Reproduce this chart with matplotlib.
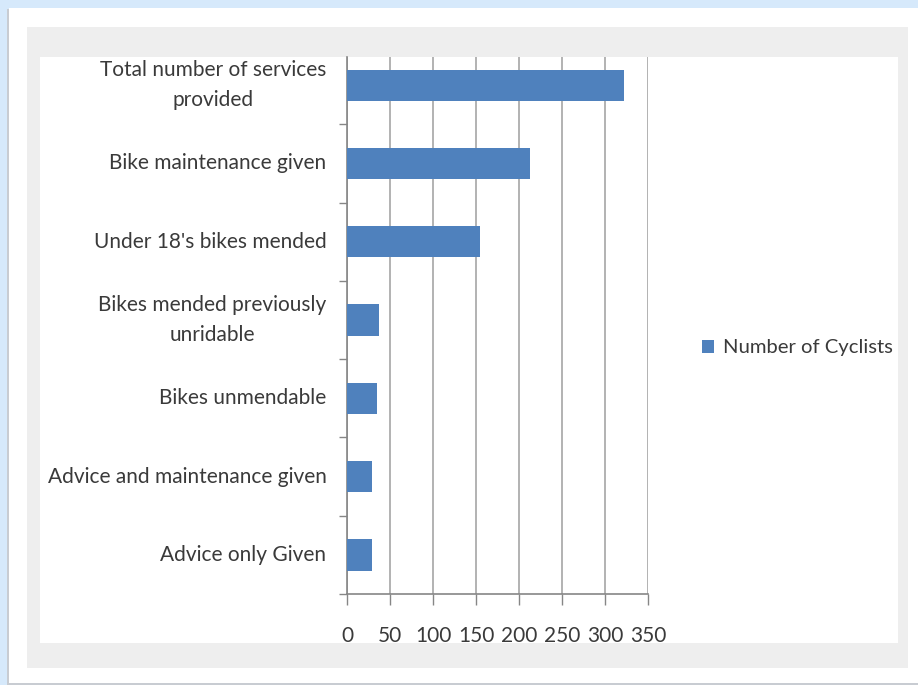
import matplotlib.pyplot as plt
from matplotlib.patches import Rectangle

# ================= data =================
categories = ['Advice only Given',
              'Advice and maintenance given',
              'Bikes unmendable',
              'Bikes mended previously\nunridable',
              "Under 18's bikes mended",
              'Bike maintenance given',
              'Total number of services\nprovided']
cyclists = [29, 29, 35, 37, 154, 212, 322]
x_ticks = [0, 50, 100, 150, 200, 250, 300, 350]
series_name = 'Number of Cyclists'

plt.rcParams['font.family'] = ['Lato', 'DejaVu Sans']
text_col = '#3a3a3a'
bar_col = '#4f81bd'
grid_col = '#a6a6a6'

W, H = 918, 685
fig = plt.figure(figsize=(W / 100, H / 100), dpi=100, facecolor='#d6e9fb')

def px_rect(x0, y0, x1, y1, color, z):
    # rectangle given in pixel coords (top-left origin)
    fig.patches.append(Rectangle((x0 / W, 1 - y1 / H), (x1 - x0) / W, (y1 - y0) / H,
                                 transform=fig.transFigure, facecolor=color,
                                 edgecolor='none', zorder=z))

# frames: outer shadow, white frame, grey panel, white chart area
px_rect(7, 9, W, H, '#c8ccd2', -4)
px_rect(9, 8, W, H - 2, 'white', -3)
px_rect(27, 27, 908, 668, '#eeeeee', -2)
px_rect(40, 57, 898, 643, 'white', -1)

ax = fig.add_axes([347.3 / W, 1 - 594 / H, 301 / W, (594 - 57) / H])
ax.set_facecolor('none')
ax.set_zorder(2)

ypos = list(range(len(categories)))
ax.barh(ypos, cyclists, height=0.40, color=bar_col, label=series_name, zorder=3)

ax.set_xlim(0, 350)
ax.set_ylim(-0.5, 6.36)
ax.set_xticks(x_ticks)
ax.set_xticklabels([str(v) for v in x_ticks])
ax.set_yticks(ypos)
ax.set_yticklabels(categories, ha='right', va='center', multialignment='center')
for t in ax.get_yticklabels():
    t.set_linespacing(1.65)
ax.set_yticks([p - 0.5 for p in ypos], minor=True)

ax.tick_params(axis='y', which='major', length=0, pad=15, labelsize=15, labelcolor=text_col)
ax.tick_params(axis='y', which='minor', length=6, width=1, color='#868686', direction='out')
ax.tick_params(axis='x', which='major', length=8, width=1, color='#868686', direction='out',
               pad=15, labelsize=15, labelcolor=text_col)

ax.grid(True, axis='x', color=grid_col, linewidth=1.2, zorder=0)
ax.set_axisbelow(True)
for side in ['top', 'right']:
    ax.spines[side].set_visible(False)
for side in ['left', 'bottom']:
    ax.spines[side].set_color('#868686')
    ax.spines[side].set_linewidth(1.2)

leg = fig.legend(loc='center left', bbox_to_anchor=(684 / W, 1 - 348 / H), frameon=False,
                 fontsize=14.6, handlelength=0.6, handleheight=0.6, handletextpad=0.4,
                 labelcolor=text_col)
leg.set_zorder(3)

fig.savefig('out.png', dpi=100, facecolor=fig.get_facecolor())
